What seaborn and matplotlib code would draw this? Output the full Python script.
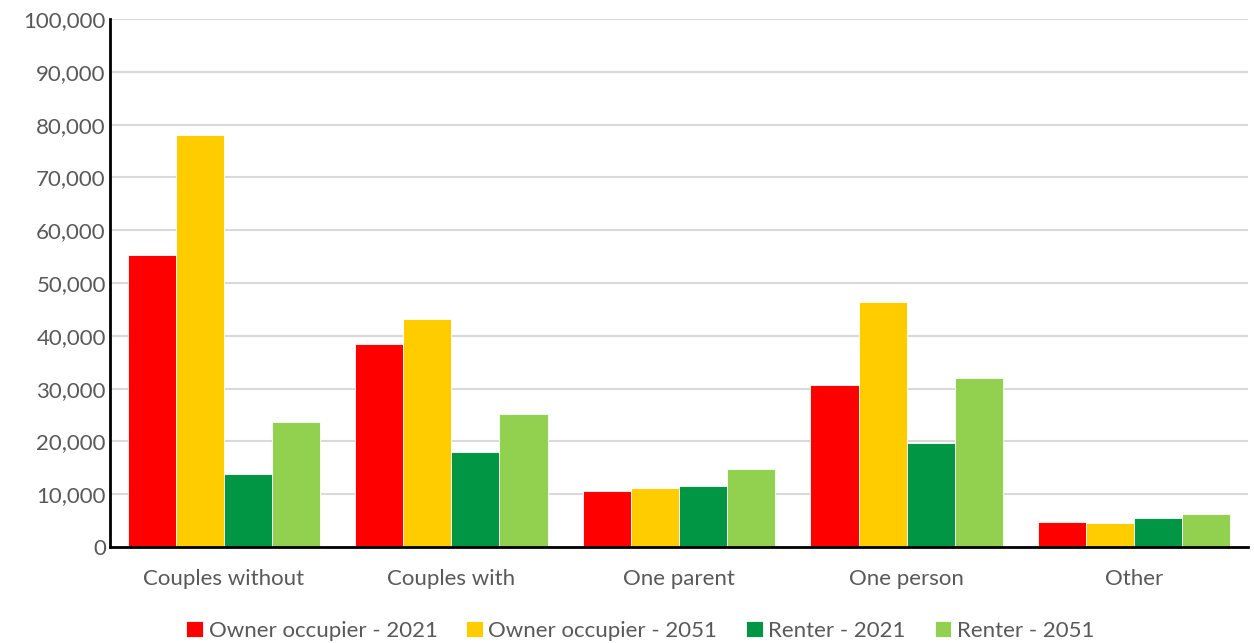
import pandas as pd
import numpy as np
import matplotlib.pyplot as plt
import seaborn as sns
from matplotlib.ticker import FuncFormatter

# household types and series values
categories = ['Couples without', 'Couples with', 'One parent', 'One person', 'Other']
series_names = ['Owner occupier - 2021', 'Owner occupier - 2051', 'Renter - 2021', 'Renter - 2051']
owner_2021 = [55300, 38400, 10600, 30600, 4700]
owner_2051 = [78000, 43100, 11200, 46400, 4500]
renter_2021 = [13900, 18000, 11500, 19700, 5400]
renter_2051 = [23600, 25100, 14800, 32100, 6200]
colors = ['#FF0000', '#FFCC00', '#009644', '#92D050']

df = pd.DataFrame({
    'Type': categories * 4,
    'Series': np.repeat(series_names, len(categories)),
    'Households': owner_2021 + owner_2051 + renter_2021 + renter_2051,
})

sns.set_style('white')
plt.rcParams['font.family'] = ['Lato', 'DejaVu Sans']

fig = plt.figure(figsize=(12.54, 6.43), dpi=100)
ax = fig.add_axes([110 / 1254, 1 - 547 / 643, 1138 / 1254, 528 / 643])

sns.barplot(data=df, x='Type', y='Households', hue='Series', palette=colors,
            saturation=1, width=0.845, gap=0, edgecolor='white', linewidth=0.6,
            ax=ax)

ax.set_ylim(0, 100000)
ax.set_xlim(-0.5, 4.5)
ax.set_yticks(np.arange(0, 100001, 10000))
ax.yaxis.set_major_formatter(FuncFormatter(lambda v, p: f'{int(v):,}'))
ax.grid(axis='y', color='#D9D9D9', linewidth=1.5)
ax.set_axisbelow(True)
ax.set_xlabel('')
ax.set_ylabel('')
ax.tick_params(axis='both', length=0, labelsize=16, labelcolor='#595959')
ax.tick_params(axis='x', pad=16)
ax.tick_params(axis='y', pad=3)
for s in ['top', 'right']:
    ax.spines[s].set_visible(False)
for s in ['left', 'bottom']:
    ax.spines[s].set_color('black')
    ax.spines[s].set_linewidth(2)
    ax.spines[s].set_zorder(5)

sns.move_legend(ax, 'lower center', bbox_to_anchor=(0.466, -0.215), ncol=4, frameon=False,
                title=None, fontsize=16, handlelength=0.75, handleheight=0.75,
                handletextpad=0.25, columnspacing=1.3, labelcolor='#595959')

fig.savefig('out.png', dpi=100)
